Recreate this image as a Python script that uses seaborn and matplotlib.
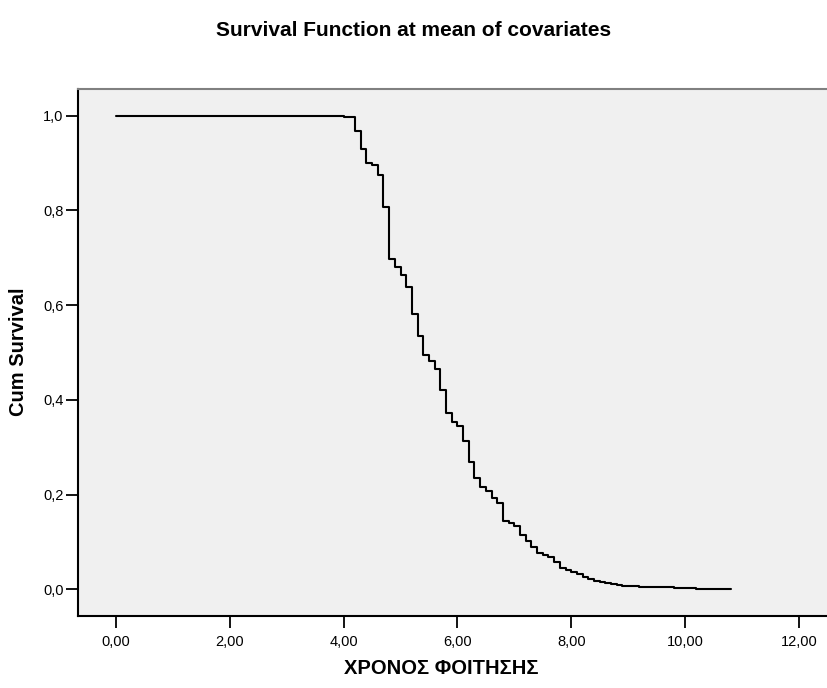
import numpy as np
import pandas as pd
import matplotlib
matplotlib.use("Agg")
import matplotlib.pyplot as plt
import seaborn as sns
from matplotlib.ticker import FuncFormatter

# tiempos de evento (inicio de cada escalon) y supervivencia acumulada
tiempos = [0.0, 4.0, 4.2, 4.3, 4.4, 4.5, 4.6, 4.7, 4.8, 4.9,
           5.0, 5.1, 5.2, 5.3, 5.4, 5.5, 5.6, 5.7, 5.8, 5.9,
           6.0, 6.1, 6.2, 6.3, 6.4, 6.5, 6.6, 6.7, 6.8, 6.9,
           7.0, 7.1, 7.2, 7.3, 7.4, 7.5, 7.6, 7.7, 7.8, 7.9,
           8.0, 8.1, 8.2, 8.3, 8.4, 8.5, 8.6, 8.7, 8.8, 8.9,
           9.2, 9.8, 10.2, 10.8]
supervivencia = [1.000, 0.998, 0.968, 0.929, 0.901, 0.896, 0.875, 0.807, 0.697, 0.681,
                 0.663, 0.639, 0.581, 0.535, 0.495, 0.481, 0.465, 0.421, 0.373, 0.353,
                 0.345, 0.314, 0.269, 0.234, 0.216, 0.208, 0.192, 0.182, 0.145, 0.139,
                 0.134, 0.114, 0.101, 0.090, 0.076, 0.072, 0.069, 0.057, 0.046, 0.041,
                 0.036, 0.032, 0.027, 0.021, 0.018, 0.016, 0.014, 0.012, 0.010, 0.008,
                 0.005, 0.003, 0.001, 0.001]

xticks = [0, 2, 4, 6, 8, 10, 12]
yticks = [0.0, 0.2, 0.4, 0.6, 0.8, 1.0]

titulo = "Survival Function at mean of covariates"
etiqueta_x = "ΧΡΟΝΟΣ ΦΟΙΤΗΣΗΣ"
etiqueta_y = "Cum Survival"

sns.set_style("ticks", {"axes.facecolor": "#f0f0f0", "text.color": "black",
                        "xtick.color": "black", "ytick.color": "black"})
plt.rcParams["font.family"] = ["Liberation Sans", "DejaVu Sans"]

df = pd.DataFrame({"tiempo": tiempos, "surv": supervivencia})

W, H = 828, 688
fig = plt.figure(figsize=(W / 100, H / 100), dpi=100)
izq, arriba, abajo = 78, 89, 616
ax = fig.add_axes([izq / W, (H - abajo) / H, 1 - izq / W, (abajo - arriba) / H])

sns.lineplot(data=df, x="tiempo", y="surv", drawstyle="steps-post",
             color="black", linewidth=1.5, estimator=None, ax=ax)

ax.set_xlim(-0.668, 12.513)
ax.set_ylim(-0.0564, 1.0564)
ax.set_xticks(xticks)
ax.set_yticks(yticks)
ax.xaxis.set_major_formatter(FuncFormatter(lambda v, p: f"{v:.2f}".replace(".", ",")))
ax.yaxis.set_major_formatter(FuncFormatter(lambda v, p: f"{v:.1f}".replace(".", ",")))
ax.tick_params(axis="both", length=8.5, width=1.3, color="black",
               labelcolor="black", labelsize=10.5)
ax.tick_params(axis="x", pad=5.5)
ax.tick_params(axis="y", pad=2)

for lado in ["left", "bottom"]:
    ax.spines[lado].set_color("black")
    ax.spines[lado].set_linewidth(1.5)
ax.spines["top"].set_visible(True)
ax.spines["top"].set_color("#808080")
ax.spines["top"].set_linewidth(1.5)
ax.spines["right"].set_visible(False)

ax.set_xlabel("")
ax.set_ylabel("")
fig.text(0.5, 1 - 30 / H, titulo, ha="center", va="center",
         fontsize=15, fontweight="bold", color="black")
fig.text(441 / W, 1 - 668 / H, etiqueta_x, ha="center", va="center",
         fontsize=14.5, fontweight="bold", color="black")
fig.text(19 / W, 1 - 352 / H, etiqueta_y, ha="center", va="center",
         rotation=90, fontsize=14.5, fontweight="bold", color="black")

fig.savefig("out.png", dpi=100)
plt.close(fig)
